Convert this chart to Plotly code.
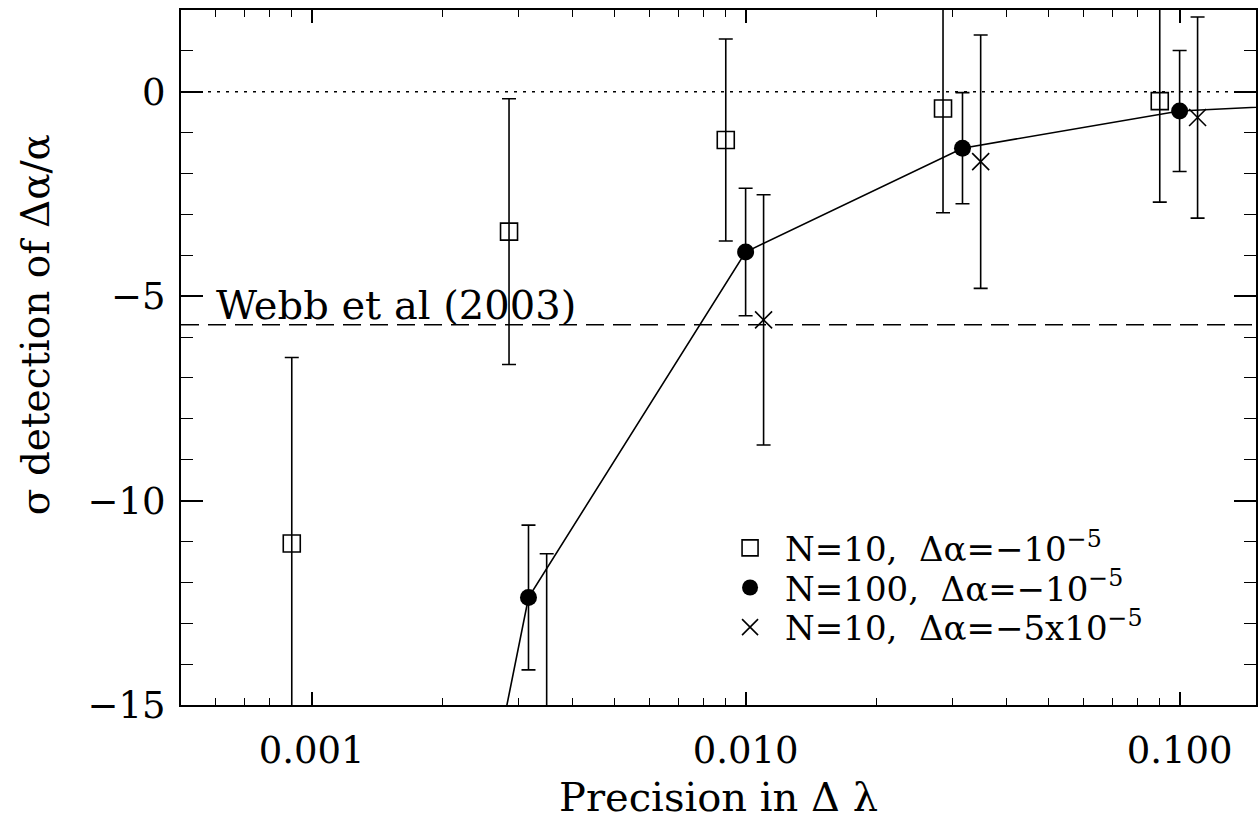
import plotly.graph_objects as go

# ---- data ----
sq_x = [0.0009, 0.00285, 0.009, 0.0285, 0.090]
sq_y = [-11.05, -3.42, -1.18, -0.41, -0.23]
sq_err = [4.55, 3.25, 2.47, 2.55, 2.47]

circ_x = [0.001, 0.00316, 0.010, 0.0316, 0.100, 0.300]
circ_y = [-38.8, -12.37, -3.92, -1.38, -0.47, -0.22]
circ_err = [0, 1.77, 1.56, 1.36, 1.48, 0]

cross_x = [0.00348, 0.011, 0.0348, 0.110]
cross_y = [-15.8, -5.58, -1.71, -0.63]
cross_err = [4.5, 3.06, 3.10, 2.46]

names = ["N=10,  Δα=−10<sup>−5</sup>",
         "N=100,  Δα=−10<sup>−5</sup>",
         "N=10,  Δα=−5x10<sup>−5</sup>"]

zero_level = 0.0
webb_level = -5.7
webb_label = "Webb et al (2003)"

x_tickvals = [0.001, 0.01, 0.1]
x_ticktext = ["0.001", "0.010", "0.100"]
y_tickvals = [0, -5, -10, -15]

FONT = "DejaVu Serif"
BLACK = "black"

fig = go.Figure()

err_style = dict(type="data", visible=True, color=BLACK, thickness=1.6, width=7)

fig.add_trace(go.Scatter(
    x=sq_x, y=sq_y, mode="markers", name=names[0], legend="legend",
    marker=dict(symbol="square-open", size=17, color=BLACK, line=dict(width=1.6, color=BLACK)),
    error_y=dict(array=sq_err, **err_style),
))
fig.add_trace(go.Scatter(
    x=circ_x, y=circ_y, mode="lines", showlegend=False,
    line=dict(color=BLACK, width=1.6), hoverinfo="skip",
))
fig.add_trace(go.Scatter(
    x=circ_x, y=circ_y, mode="markers", name=names[1], legend="legend2",
    marker=dict(symbol="circle", size=17, color=BLACK),
    error_y=dict(array=circ_err, **err_style),
))
fig.add_trace(go.Scatter(
    x=cross_x, y=cross_y, mode="markers", name=names[2], legend="legend3",
    marker=dict(symbol="x-thin-open", size=17, color=BLACK, line=dict(width=1.6, color=BLACK)),
    error_y=dict(array=cross_err, **err_style),
))

fig.add_shape(type="line", xref="paper", x0=0, x1=1, yref="y", y0=zero_level, y1=zero_level,
              line=dict(color=BLACK, width=1.6, dash="3px,6px"), layer="below")
fig.add_shape(type="line", xref="paper", x0=0, x1=1, yref="y", y0=webb_level, y1=webb_level,
              line=dict(color=BLACK, width=1.4, dash="18px,9px"), layer="below")

fig.add_annotation(text=webb_label, xref="paper", x=0.031, xanchor="left",
                   yref="y", y=webb_level, yanchor="bottom", yshift=-5, showarrow=False,
                   font=dict(family=FONT, size=40, color=BLACK))

fig.add_annotation(text="σ detection of Δα/α", xref="paper", x=-0.1346, xanchor="center",
                   yref="paper", y=0.547, yanchor="middle", textangle=-90, showarrow=False,
                   font=dict(family=FONT, size=39, color=BLACK))

axis_common = dict(showline=True, linecolor=BLACK, linewidth=2, mirror="ticks",
                   ticks="inside", tickcolor=BLACK, tickwidth=1.6,
                   showgrid=False, zeroline=False,
                   tickfont=dict(family=FONT, size=37, color=BLACK))

fig.update_xaxes(type="log", range=[-3.301, -0.824],
                 tickvals=x_tickvals, ticktext=x_ticktext, ticklen=13,
                 minor=dict(ticks="inside", ticklen=7, tickcolor=BLACK, tickwidth=1.4, dtick="D1", showgrid=False),
                 ticklabelstandoff=12,
                 title=dict(text="Precision in Δ λ", font=dict(family=FONT, size=40, color=BLACK), standoff=12),
                 **axis_common)
fig.update_yaxes(range=[-15, 2], tickvals=y_tickvals, ticklen=22,
                 minor=dict(ticks="inside", ticklen=12, tickcolor=BLACK, tickwidth=1.4, dtick=1, showgrid=False),
                 ticklabelstandoff=6,
                 **axis_common)

leg_common = dict(x=0.4968, xanchor="left", yanchor="middle", bgcolor="rgba(0,0,0,0)",
                  font=dict(family=FONT, size=34, color=BLACK), itemwidth=60)

fig.update_layout(
    width=1259, height=826,
    margin=dict(l=181, r=1, t=10, b=121),
    paper_bgcolor="white", plot_bgcolor="white",
    showlegend=True,
    legend=dict(y=0.2255, **leg_common),
    legend2=dict(y=0.1685, **leg_common),
    legend3=dict(y=0.1115, **leg_common),
)

fig.write_html("out.html")
